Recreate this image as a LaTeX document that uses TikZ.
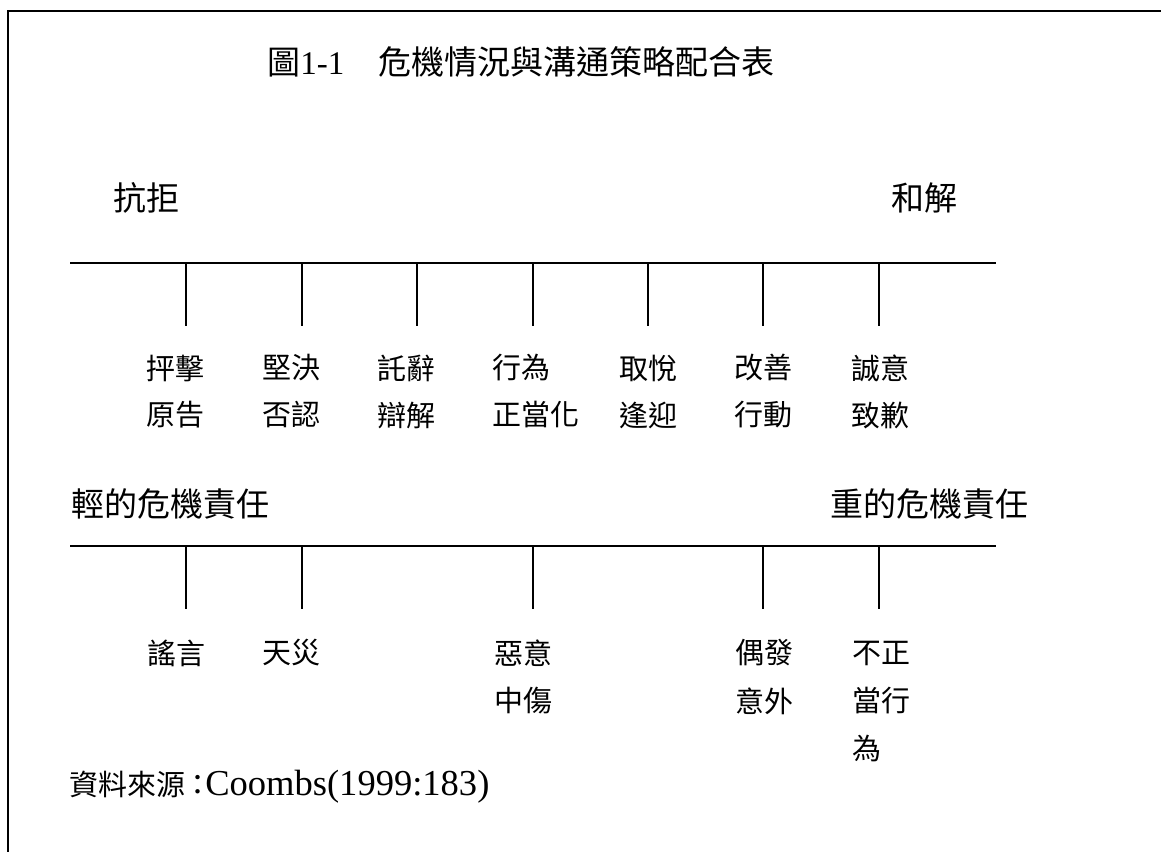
\documentclass[tikz,border=0pt]{standalone}
\usepackage{fontspec}
\setmainfont{Liberation Serif}
\newfontfamily\cjk{Noto Sans CJK TC}
\newfontfamily\cjkjp{Noto Sans CJK JP}
\begin{document}
\begin{tikzpicture}[x=0.75pt,y=-0.75pt,
  lab/.style={anchor=west,inner sep=0pt,font=\cjk\fontsize{21.75}{26}\selectfont},
  head/.style={anchor=west,inner sep=0pt,font=\cjk\fontsize{24.75}{30}\selectfont},
  axis/.style={line width=1.15pt},
  tick/.style={line width=1.1pt},
  frame/.style={line width=1.5pt}]
\useasboundingbox (0,0) rectangle (1161,852);
% frame
\coordinate (fa) at (8.3,852);
\coordinate (fb) at (8.3,11);
\coordinate (fc) at (1161,11);
\draw[frame] (fa) -- (fb) -- (fc);
% title
\node[anchor=base west,inner sep=0pt,font=\fontsize{24.75}{30}\selectfont] (title) at (267,75)
  {{\cjk 圖}1-1\hspace{25.5pt}{\cjk 危機情況與溝通策略配合表}};
% first scale
\node[head] (kang) at (113,198) {抗拒};
\node[head] (he) at (891,198) {和解};
\coordinate (L1a) at (70,263);
\coordinate (L1b) at (996,263);
\draw[axis] (L1a) -- (L1b);
\foreach \i/\x in {1/186,2/302,3/417,4/533,5/648,6/763,7/879}{
  \coordinate (u\i) at (\x,263);
  \coordinate (v\i) at (\x,326);
  \draw[tick] (u\i) -- (v\i);
}
\node[lab] (s1a) at (146,368) {抨擊};
\node[lab] (s1b) at (146,415) {原告};
\node[lab] (s2a) at (262,368) {堅決};
\node[lab] (s2b) at (262,415) {否認};
\node[lab] (s3a) at (377,368) {託辭};
\node[lab] (s3b) at (377,415) {辯解};
\node[lab] (s4a) at (492,368) {行為};
\node[lab] (s4b) at (492,415) {正當化};
\node[lab] (s5a) at (619,368) {取悅};
\node[lab] (s5b) at (619,415) {逢迎};
\node[lab] (s6a) at (734,368) {改善};
\node[lab] (s6b) at (734,415) {行動};
\node[lab] (s7a) at (851,368) {誠意};
\node[lab] (s7b) at (851,415) {致歉};
% second scale
\node[head] (qing) at (71,504) {輕的危機責任};
\node[head] (zhong) at (830,504) {重的危機責任};
\coordinate (L2a) at (70,546);
\coordinate (L2b) at (996,546);
\draw[axis] (L2a) -- (L2b);
\foreach \i/\x in {1/186,2/302,4/533,6/763,7/879}{
  \coordinate (p\i) at (\x,546);
  \coordinate (q\i) at (\x,609);
  \draw[tick] (p\i) -- (q\i);
}
\node[lab] (c1a) at (147,653) {謠言};
\node[lab] (c2a) at (262,653) {天災};
\node[lab] (c4a) at (494,653) {惡意};
\node[lab] (c4b) at (494,701) {中傷};
\node[lab] (c6a) at (735,653) {偶發};
\node[lab] (c6b) at (735,701) {意外};
\node[lab] (c7a) at (852,653) {不正};
\node[lab] (c7b) at (852,701) {當行};
\node[lab] (c7c) at (852,748) {為};
% source
\node[anchor=base west,inner sep=0pt,font=\fontsize{27.4}{32}\selectfont] (src) at (69,795)
  {{\cjk\fontsize{21.75}{26}\selectfont 資料來源}\hspace{-1.5pt}{\cjkjp\fontsize{21.75}{26}\selectfont ：}\hspace{-5.25pt}Coombs(1999:183)};
\end{tikzpicture}
\end{document}
